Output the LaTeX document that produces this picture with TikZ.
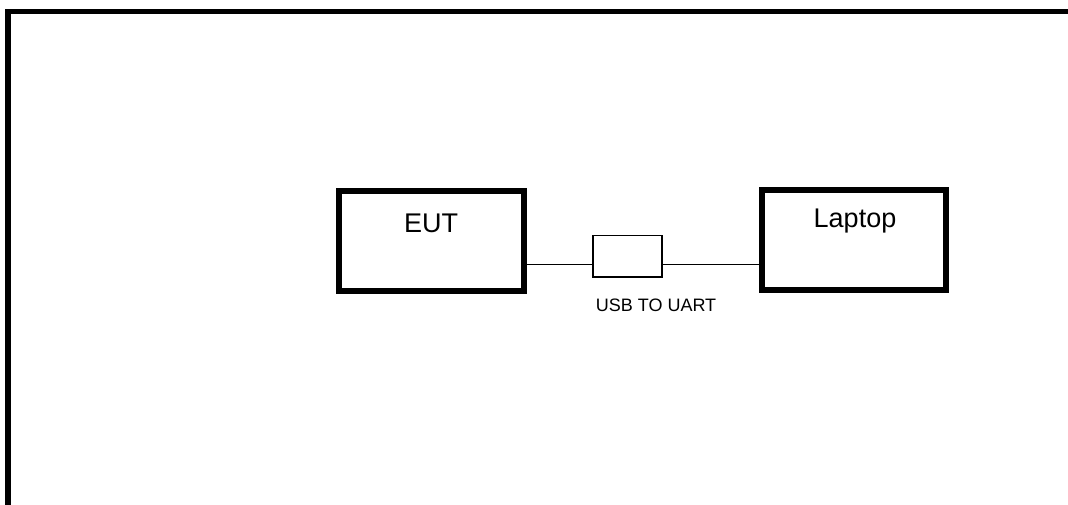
\documentclass[tikz,border=0pt]{standalone}
\usepackage{fontspec}
\setmainfont{Liberation Sans}
\begin{document}
\begin{tikzpicture}[x=1pt,y=-1pt,
  bigbox/.style={draw=black,line width=6pt,rectangle,inner sep=0pt,minimum width=184.5pt,minimum height=100pt},
  smallbox/.style={draw=black,line width=1.5pt,rectangle,inner sep=0pt,minimum width=69pt,minimum height=41.5pt},
  bigtext/.style={font=\fontsize{27}{32}\selectfont,anchor=base,inner sep=0pt},
  smalltext/.style={font=\fontsize{18}{22}\selectfont,anchor=base,inner sep=0pt},
  wire/.style={draw=black,line width=1pt}]
\useasboundingbox (0,0) rectangle (1068,504);
\clip (0,0) rectangle (1068,504);
\draw[line width=5.5pt] (8,530) -- (8,11.5) -- (1090,11.5);
\node[bigbox] (eut) at (431.25,241) {};
\node[bigtext] (eutt) at (431,232) {EUT};
\node[bigbox] (lap) at (854,240) {};
\node[bigtext] (lapt) at (855,227) {Laptop};
\node[smallbox] (usb) at (627.5,256) {};
\node[smalltext] (usbt) at (656,311) {USB TO UART};
\coordinate (wy) at (0,264);
\draw[wire] (eut.east |- wy) -- (usb.west |- wy);
\draw[wire] (usb.east |- wy) -- (lap.west |- wy);
\end{tikzpicture}
\end{document}
